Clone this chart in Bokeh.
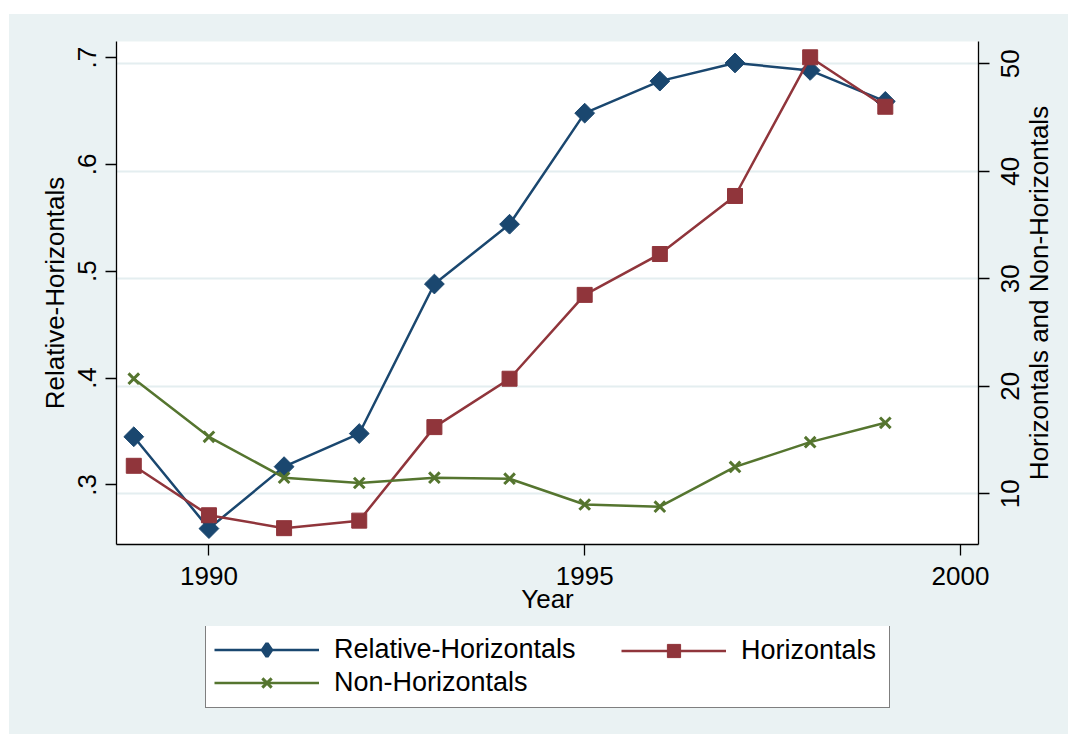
import math
from bokeh.plotting import figure
from bokeh.layouts import column, row
from bokeh.core.properties import value
from bokeh.models import Range1d, LinearAxis, FixedTicker, Grid, Legend, LegendItem
from bokeh.embed import file_html
from bokeh.resources import INLINE

# ---- data ----
years = [1989, 1990, 1991, 1992, 1993, 1994, 1995, 1996, 1997, 1998, 1999]
relative_horizontals = [0.345, 0.259, 0.317, 0.348, 0.488, 0.544, 0.648, 0.678, 0.695, 0.688, 0.659]
horizontals = [12.6, 8.0, 6.8, 7.5, 16.2, 20.7, 28.5, 32.3, 37.7, 50.6, 46.0]
non_horizontals = [20.7, 15.3, 11.5, 11.0, 11.5, 11.4, 9.0, 8.8, 12.5, 14.8, 16.6]

x_ticks = [1990, 1995, 2000]
left_ticks = [0.3, 0.4, 0.5, 0.6, 0.7]
left_tick_labels = [".3", ".4", ".5", ".6", ".7"]
right_ticks = [10, 20, 30, 40, 50]
right_tick_labels = ["10", "20", "30", "40", "50"]

series_labels = ["Relative-Horizontals", "Horizontals", "Non-Horizontals"]
x_label = "Year"
left_label = "Relative-Horizontals"
right_label = "Horizontals and Non-Horizontals"

# ---- styles ----
BG = "#EAF2F3"
BLUE = "#1A476F"
RED = "#90353B"
GREEN = "#55752F"
FONT = "Liberation Sans"
TICK_FS = "26px"
TITLE_FS = "26px"
LEG_FS = "27px"

X_RANGE = (1988.77, 2000.24)
LEFT_RANGE = (0.2441, 0.7151)
RIGHT_RANGE = (5.28, 52.07)

p = figure(width=983, height=612, output_backend="svg", toolbar_location=None,
           x_range=Range1d(*X_RANGE), y_range=Range1d(*LEFT_RANGE),
           min_border_left=107, min_border_right=14, min_border_top=27, min_border_bottom=82,
           background_fill_color="white", border_fill_color=BG, outline_line_color=None)
p.extra_y_ranges = {"right": Range1d(*RIGHT_RANGE)}

p.xgrid.visible = False
p.ygrid.visible = False
p.add_layout(Grid(dimension=1, ticker=FixedTicker(ticks=right_ticks), y_range_name="right",
                  grid_line_color="#E4EEF0", grid_line_width=2))


def style_axis(ax):
    ax.axis_line_color = "black"
    ax.axis_line_width = 1.3
    ax.major_tick_line_color = "black"
    ax.major_tick_line_width = 1.3
    ax.major_tick_out = 11
    ax.major_tick_in = 0
    ax.minor_tick_out = 0
    ax.minor_tick_in = 0
    ax.major_label_text_font = FONT
    ax.major_label_text_font_size = TICK_FS
    ax.major_label_text_color = "black"
    ax.axis_label_text_font = FONT
    ax.axis_label_text_font_size = TITLE_FS
    ax.axis_label_text_font_style = "normal"
    ax.axis_label_text_color = "black"


xa = p.xaxis[0]
style_axis(xa)
xa.ticker = FixedTicker(ticks=x_ticks)
xa.axis_label = x_label
xa.major_label_standoff = 11
xa.axis_label_standoff = -4

ya = p.yaxis[0]
style_axis(ya)
ya.ticker = FixedTicker(ticks=left_ticks)
ya.major_label_overrides = {t: l for t, l in zip(left_ticks, left_tick_labels)}
ya.axis_label = left_label
ya.major_label_orientation = "vertical"
ya.major_label_standoff = 9
ya.axis_label_standoff = 6

# right axis: line and ticks here, its labels are set in the strip to the right
ra = LinearAxis(y_range_name="right", ticker=FixedTicker(ticks=right_ticks))
style_axis(ra)
ra.major_label_overrides = {t: "" for t in right_ticks}
ra.major_label_standoff = 0
p.add_layout(ra, "right")

r1l = p.line(years, relative_horizontals, line_color=BLUE, line_width=2.5)
r1m = p.scatter(years, relative_horizontals, marker="square", angle=math.pi / 4, size=14,
                fill_color=BLUE, line_color=BLUE)
r2l = p.line(years, horizontals, y_range_name="right", line_color=RED, line_width=2.5)
r2m = p.scatter(years, horizontals, y_range_name="right", marker="square", size=15,
                fill_color=RED, line_color=RED)
r3l = p.line(years, non_horizontals, y_range_name="right", line_color=GREEN, line_width=2.5)
r3m = p.scatter(years, non_horizontals, y_range_name="right", marker="x", size=15,
                line_color=GREEN, line_width=3)

# ---- right strip: right-axis tick labels and title, reading bottom to top ----
s = figure(width=76, height=612, output_backend="svg", toolbar_location=None,
           x_range=Range1d(0, 76), y_range=Range1d(*RIGHT_RANGE),
           x_axis_location=None, y_axis_location=None,
           min_border_left=0, min_border_right=0, min_border_top=27, min_border_bottom=82,
           background_fill_color=BG, border_fill_color=BG, outline_line_color=None)
s.xgrid.visible = False
s.ygrid.visible = False
s.text(x=17, y=right_ticks, text=right_tick_labels, angle=math.pi / 2,
       text_align="center", text_baseline="middle", text_font=value(FONT),
       text_font_size=TICK_FS, text_color="black")
s.text(x=[46], y=[(RIGHT_RANGE[0] + RIGHT_RANGE[1]) / 2], text=[right_label], angle=math.pi / 2,
       text_align="center", text_baseline="middle", text_font=value(FONT),
       text_font_size=TITLE_FS, text_color="black")

# ---- legend panel below ----
q = figure(width=1059, height=108, output_backend="svg", toolbar_location=None,
           x_range=Range1d(0, 1), y_range=Range1d(0, 1),
           x_axis_location=None, y_axis_location=None,
           min_border_left=107, min_border_right=0, min_border_top=0, min_border_bottom=0,
           background_fill_color=BG, border_fill_color=BG, outline_line_color=None)
q.xgrid.visible = False
q.ygrid.visible = False

# legend keys drawn from the same series (their data lies outside this panel's ranges)
k1l = q.line(years, relative_horizontals, line_color=BLUE, line_width=2.5)
k1m = q.scatter(years, relative_horizontals, marker="diamond", size=14,
                fill_color=BLUE, line_color=BLUE, line_width=3.5)
k2l = q.line(years, horizontals, line_color=RED, line_width=2.5)
k2m = q.scatter(years, horizontals, marker="square", size=15, fill_color=RED, line_color=RED)
k3l = q.line(years, non_horizontals, line_color=GREEN, line_width=2.5)
k3m = q.scatter(years, non_horizontals, marker="x", size=15, line_color=GREEN, line_width=3)

common = dict(orientation="vertical", padding=8, spacing=0, margin=0,
              glyph_width=105, glyph_height=33, label_standoff=15,
              label_text_font=FONT, label_text_font_size=LEG_FS, label_text_color="black")

leg1 = Legend(items=[LegendItem(label=series_labels[0], renderers=[k1l, k1m]),
                     LegendItem(label=series_labels[2], renderers=[k3l, k3m])],
              location=(89, 26), border_line_color="black", border_line_width=1,
              background_fill_color="white", background_fill_alpha=1.0,
              label_width=547, **common)
leg2 = Legend(items=[LegendItem(label=series_labels[1], renderers=[k2l, k2m])],
              location=(505, 67), border_line_color=None,
              background_fill_alpha=0.0, **common)
q.add_layout(leg1)
q.add_layout(leg2)

top = row(p, s, spacing=0, styles={"background-color": BG})
layout = column(top, q, spacing=0, margin=(14, 0, 0, 9), styles={"background-color": BG})
open("out.html", "w").write(file_html(layout, INLINE))
